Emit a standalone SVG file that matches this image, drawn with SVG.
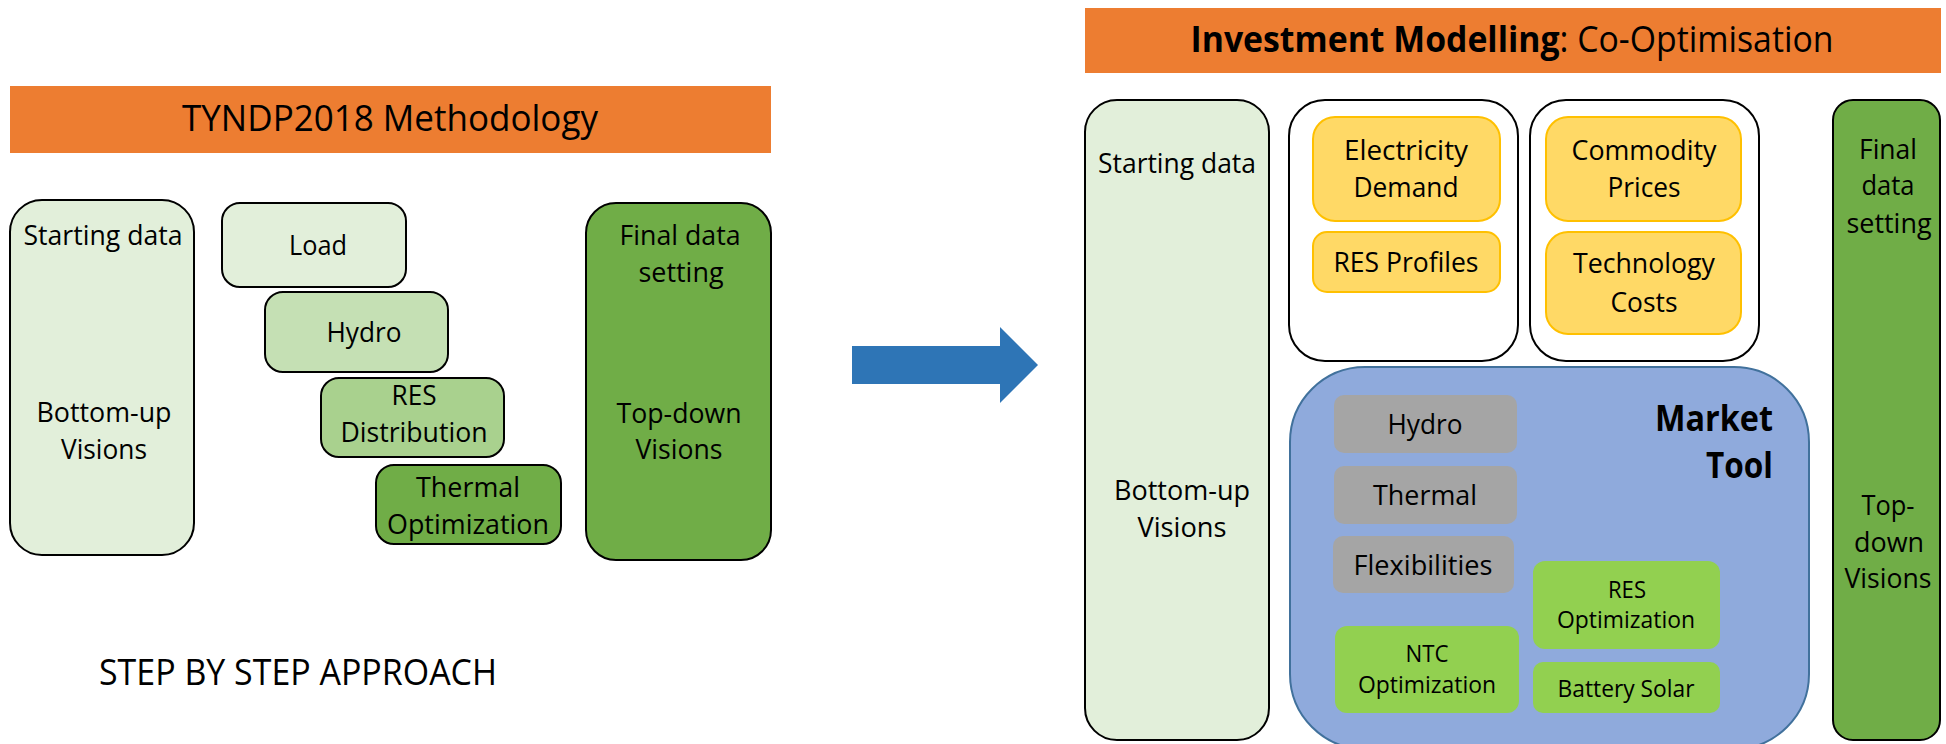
<svg xmlns="http://www.w3.org/2000/svg" width="1946" height="744" viewBox="0 0 1946 744">
  <style>
    text { font-family: "Open Sans", "Liberation Sans", sans-serif; fill: #000; text-anchor: middle; }
    .lbl { font-size: 28px; }
    .sm { font-size: 24px; }
    .ttl { font-size: 36px; }
    .bold { font-weight: bold; }
    .banner { fill: #ED7D31; }
    .box { stroke: #000; stroke-width: 2; }
    .g1 { fill: #E2EFDA; }
    .g2 { fill: #C5E0B4; }
    .g3 { fill: #A9D18E; }
    .g4 { fill: #70AD47; }
    .white { fill: #FFFFFF; }
    .gold { fill: #FFD966; stroke: #FFC000; stroke-width: 2; }
    .grey { fill: #A5A5A5; }
    .lime { fill: #92D050; }
    .market { fill: #8FAADC; stroke: #41719C; stroke-width: 2; }
  </style>

  <rect width="1946" height="744" fill="#FFFFFF"/>

  <!-- Left panel: TYNDP2018 methodology -->
  <g id="tyndp-title">
    <rect class="banner" x="10" y="86" width="761" height="67"/>
    <text class="ttl" x="390" y="131" textLength="416" lengthAdjust="spacingAndGlyphs">TYNDP2018 Methodology</text>
  </g>

  <g id="left-starting">
    <rect class="box g1" x="10" y="200" width="184" height="355" rx="32"/>
    <text class="lbl" x="103" y="245" textLength="159" lengthAdjust="spacingAndGlyphs">Starting data</text>
    <text class="lbl" x="104" y="422" textLength="135" lengthAdjust="spacingAndGlyphs">Bottom-up</text>
    <text class="lbl" x="104" y="459" textLength="86" lengthAdjust="spacingAndGlyphs">Visions</text>
  </g>

  <g id="left-load">
    <rect class="box g1" x="222" y="203" width="184" height="84" rx="18"/>
    <text class="lbl" x="318" y="255" textLength="58" lengthAdjust="spacingAndGlyphs">Load</text>
  </g>

  <g id="left-hydro">
    <rect class="box g2" x="265" y="292" width="183" height="80" rx="18"/>
    <text class="lbl" x="364" y="342" textLength="75" lengthAdjust="spacingAndGlyphs">Hydro</text>
  </g>

  <g id="left-res">
    <rect class="box g3" x="321" y="378" width="183" height="79" rx="18"/>
    <text class="lbl" x="414" y="405" textLength="45" lengthAdjust="spacingAndGlyphs">RES</text>
    <text class="lbl" x="414" y="442" textLength="147" lengthAdjust="spacingAndGlyphs">Distribution</text>
  </g>

  <g id="left-thermal">
    <rect class="box g4" x="376" y="465" width="185" height="79" rx="18"/>
    <text class="lbl" x="468" y="497" textLength="104" lengthAdjust="spacingAndGlyphs">Thermal</text>
    <text class="lbl" x="468" y="534" textLength="162" lengthAdjust="spacingAndGlyphs">Optimization</text>
  </g>

  <g id="left-final">
    <rect class="box g4" x="586" y="203" width="185" height="357" rx="30"/>
    <text class="lbl" x="680" y="245" textLength="121" lengthAdjust="spacingAndGlyphs">Final data</text>
    <text class="lbl" x="681" y="282" textLength="85" lengthAdjust="spacingAndGlyphs">setting</text>
    <text class="lbl" x="679" y="423" textLength="125" lengthAdjust="spacingAndGlyphs">Top-down</text>
    <text class="lbl" x="679" y="459" textLength="87" lengthAdjust="spacingAndGlyphs">Visions</text>
  </g>

  <g id="step-caption">
    <text class="ttl" x="298" y="685" textLength="398" lengthAdjust="spacingAndGlyphs">STEP BY STEP APPROACH</text>
  </g>

  <!-- Transition arrow between the two approaches -->
  <g id="connectors">
    <polygon points="852,346 1000,346 1000,327 1038,365 1000,403 1000,384 852,384" fill="#2E75B6"/>
  </g>

  <!-- Right panel: investment modelling -->
  <g id="investment-title">
    <rect class="banner" x="1085" y="8" width="856" height="65"/>
    <text class="ttl" x="1512" y="52" textLength="643" lengthAdjust="spacingAndGlyphs"><tspan class="bold">Investment Modelling</tspan>: Co-Optimisation</text>
  </g>

  <g id="right-starting">
    <rect class="box g1" x="1085" y="100" width="184" height="640" rx="32"/>
    <text class="lbl" x="1177" y="173" textLength="158" lengthAdjust="spacingAndGlyphs">Starting data</text>
    <text class="lbl" x="1182" y="500" textLength="136" lengthAdjust="spacingAndGlyphs">Bottom-up</text>
    <text class="lbl" x="1182" y="537" textLength="89" lengthAdjust="spacingAndGlyphs">Visions</text>
  </g>

  <g id="demand-group">
    <rect class="box white" x="1289" y="100" width="229" height="261" rx="36"/>
  </g>
  <g id="cost-group">
    <rect class="box white" x="1530" y="100" width="229" height="261" rx="36"/>
  </g>

  <g id="electricity-demand">
    <rect class="gold" x="1313" y="117" width="187" height="104" rx="22"/>
    <text class="lbl" x="1406" y="160" textLength="124" lengthAdjust="spacingAndGlyphs">Electricity</text>
    <text class="lbl" x="1406" y="197" textLength="105" lengthAdjust="spacingAndGlyphs">Demand</text>
  </g>

  <g id="res-profiles">
    <rect class="gold" x="1313" y="232" width="187" height="60" rx="14"/>
    <text class="lbl" x="1406" y="272" textLength="145" lengthAdjust="spacingAndGlyphs">RES Profiles</text>
  </g>

  <g id="commodity-prices">
    <rect class="gold" x="1546" y="117" width="195" height="104" rx="22"/>
    <text class="lbl" x="1644" y="160" textLength="145" lengthAdjust="spacingAndGlyphs">Commodity</text>
    <text class="lbl" x="1644" y="197" textLength="73" lengthAdjust="spacingAndGlyphs">Prices</text>
  </g>

  <g id="technology-costs">
    <rect class="gold" x="1546" y="232" width="195" height="102" rx="22"/>
    <text class="lbl" x="1644" y="273" textLength="142" lengthAdjust="spacingAndGlyphs">Technology</text>
    <text class="lbl" x="1644" y="312" textLength="67" lengthAdjust="spacingAndGlyphs">Costs</text>
  </g>

  <g id="market-tool">
    <rect class="market" x="1290" y="367" width="519" height="382" rx="75"/>
    <text class="ttl bold" x="1773" y="431" style="text-anchor:end" textLength="118" lengthAdjust="spacingAndGlyphs">Market</text>
    <text class="ttl bold" x="1773" y="478" style="text-anchor:end" textLength="67" lengthAdjust="spacingAndGlyphs">Tool</text>
  </g>

  <g id="market-hydro">
    <rect class="grey" x="1334" y="395" width="183" height="58" rx="10"/>
    <text class="lbl" x="1425" y="434" textLength="75" lengthAdjust="spacingAndGlyphs">Hydro</text>
  </g>

  <g id="market-thermal">
    <rect class="grey" x="1334" y="466" width="183" height="58" rx="10"/>
    <text class="lbl" x="1425" y="505" textLength="104" lengthAdjust="spacingAndGlyphs">Thermal</text>
  </g>

  <g id="market-flexibilities">
    <rect class="grey" x="1333" y="536" width="181" height="57" rx="10"/>
    <text class="lbl" x="1423" y="575" textLength="139" lengthAdjust="spacingAndGlyphs">Flexibilities</text>
  </g>

  <g id="res-optimization">
    <rect class="lime" x="1533" y="561" width="187" height="88" rx="12"/>
    <text class="sm" x="1627" y="598" textLength="38" lengthAdjust="spacingAndGlyphs">RES</text>
    <text class="sm" x="1626" y="628" textLength="138" lengthAdjust="spacingAndGlyphs">Optimization</text>
  </g>

  <g id="ntc-optimization">
    <rect class="lime" x="1335" y="626" width="184" height="87" rx="12"/>
    <text class="sm" x="1427" y="662" textLength="43" lengthAdjust="spacingAndGlyphs">NTC</text>
    <text class="sm" x="1427" y="693" textLength="138" lengthAdjust="spacingAndGlyphs">Optimization</text>
  </g>

  <g id="battery-solar">
    <rect class="lime" x="1533" y="662" width="187" height="51" rx="10"/>
    <text class="sm" x="1626" y="697" textLength="137" lengthAdjust="spacingAndGlyphs">Battery Solar</text>
  </g>

  <g id="right-final">
    <rect class="box g4" x="1833" y="100" width="107" height="640" rx="20"/>
    <text class="lbl" x="1888" y="159" textLength="58" lengthAdjust="spacingAndGlyphs">Final</text>
    <text class="lbl" x="1888" y="195" textLength="53" lengthAdjust="spacingAndGlyphs">data</text>
    <text class="lbl" x="1889" y="233" textLength="85" lengthAdjust="spacingAndGlyphs">setting</text>
    <text class="lbl" x="1888" y="515" textLength="53" lengthAdjust="spacingAndGlyphs">Top-</text>
    <text class="lbl" x="1889" y="552" textLength="70" lengthAdjust="spacingAndGlyphs">down</text>
    <text class="lbl" x="1888" y="588" textLength="87" lengthAdjust="spacingAndGlyphs">Visions</text>
  </g>
</svg>
